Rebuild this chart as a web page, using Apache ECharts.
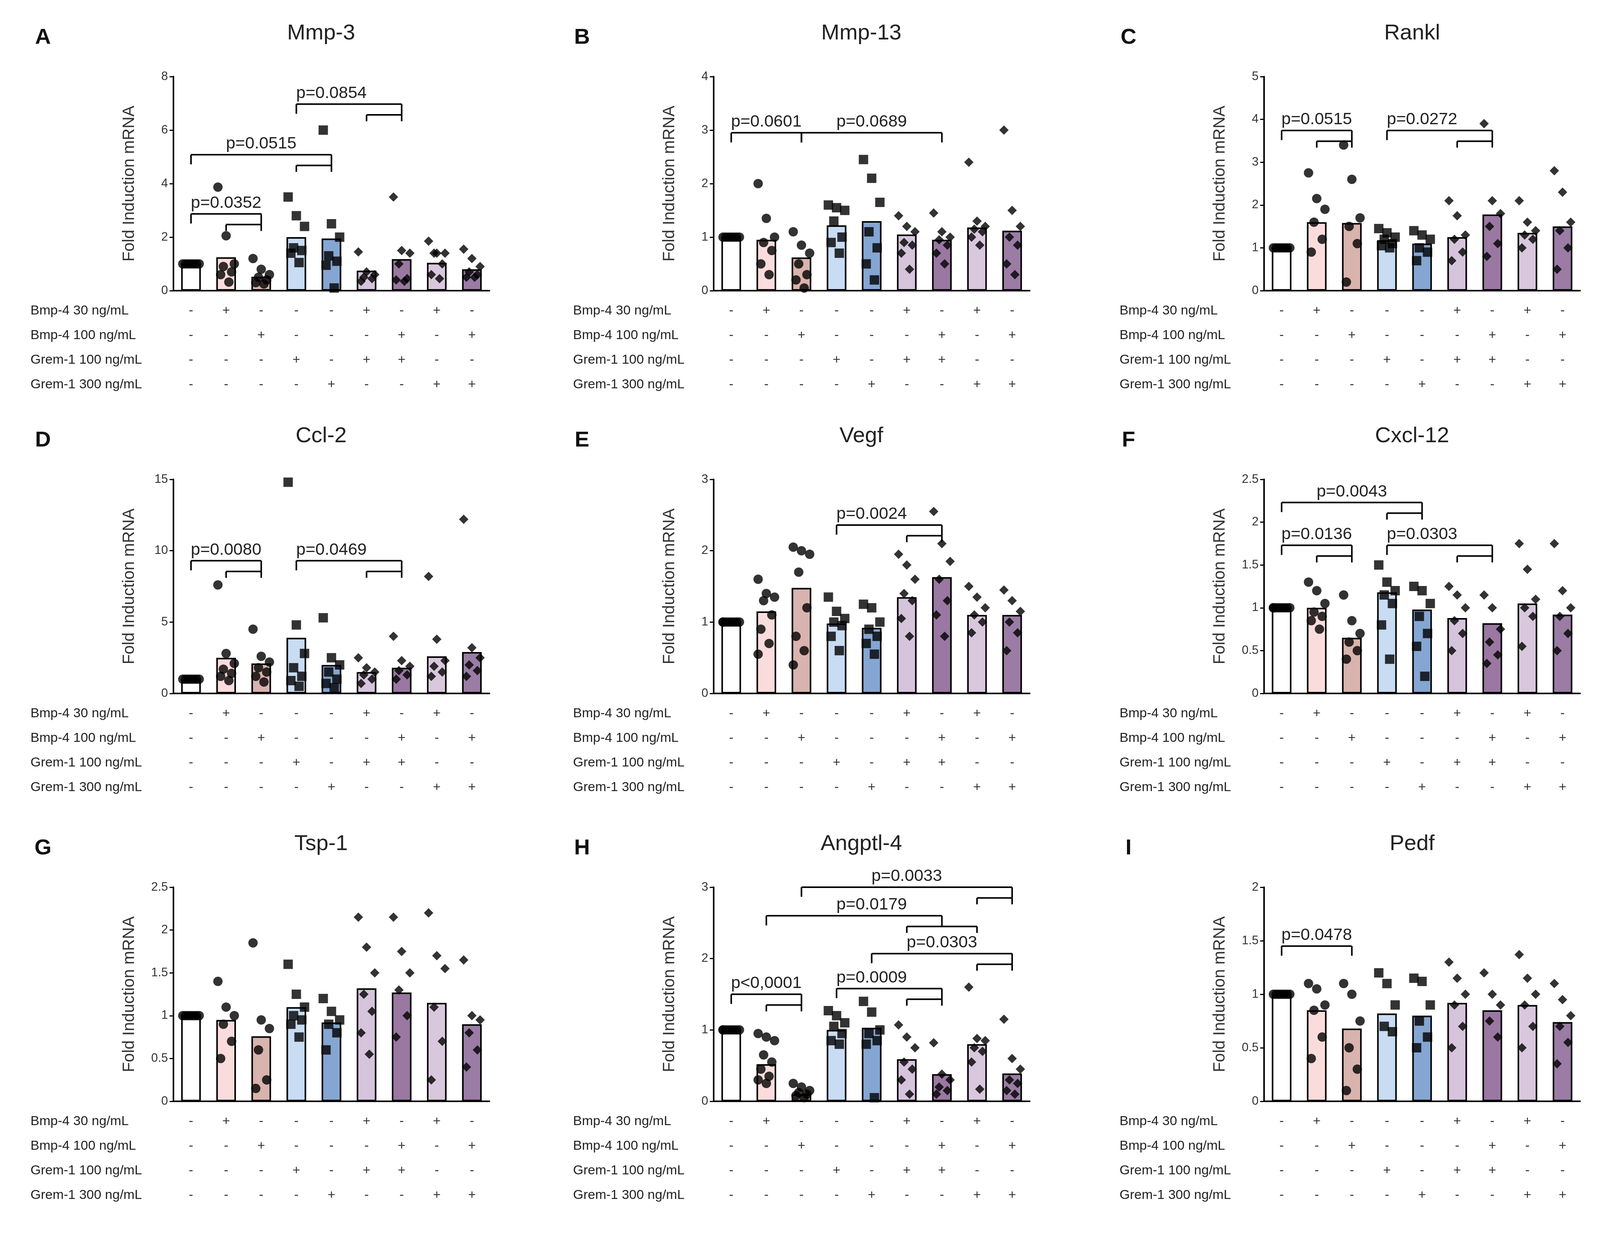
<!DOCTYPE html>
<html><head><meta charset="utf-8">
<script src="https://cdn.jsdelivr.net/npm/echarts@6/dist/echarts.min.js"></script>
<style>html,body{margin:0;background:#fff}#c{width:4173px;height:3215px}</style>
</head><body><div id="c"></div>
<script>
"use strict"
// treatment table, same for every panel
var rowNames = ['Bmp-4 30 ng/mL', 'Bmp-4 100 ng/mL', 'Grem-1 100 ng/mL', 'Grem-1 300 ng/mL'];
var signs = [
  ['-','+','-','-','-','+','-','+','-'],
  ['-','-','+','-','-','-','+','-','+'],
  ['-','-','-','+','-','+','+','-','-'],
  ['-','-','-','-','+','-','-','+','+']
];
var groups = ['g0','g1','g2','g3','g4','g5','g6','g7','g8'];
var barColors = ['#ffffff','#fbdcdc','#d9b3ad','#c8dcf3','#85a6d2','#d6c4dc','#9a78a2','#d9c8dd','#9a7ca5'];
var symbols = ['circle','circle','circle','rect','rect','diamond','diamond','diamond','diamond'];

var letters = ['A','B','C','D','E','F','G','H','I'];
var titles = ['Mmp-3','Mmp-13','Rankl','Ccl-2','Vegf','Cxcl-12','Tsp-1','Angptl-4','Pedf'];
var yMax = [8, 4, 5, 15, 3, 2.5, 2.5, 3, 2];
var yStep = [2, 1, 1, 5, 1, 0.5, 0.5, 1, 0.5];

// bar heights (means)
var means = [
  [1.0, 1.25, 0.52, 2.0, 1.95, 0.75, 1.18, 1.04, 0.8],
  [1.0, 0.95, 0.62, 1.22, 1.3, 1.05, 0.95, 1.18, 1.12],
  [1.0, 1.6, 1.58, 1.18, 1.1, 1.25, 1.78, 1.35, 1.5],
  [1.0, 2.5, 2.1, 3.9, 2.0, 1.5, 1.8, 2.6, 2.9],
  [1.0, 1.15, 1.48, 0.98, 0.92, 1.35, 1.63, 1.1, 1.1],
  [1.0, 1.0, 0.65, 1.18, 0.98, 0.88, 0.82, 1.05, 0.92],
  [1.0, 0.95, 0.76, 1.1, 0.92, 1.32, 1.27, 1.15, 0.9],
  [1.0, 0.52, 0.1, 1.0, 1.03, 0.59, 0.38, 0.8, 0.39],
  [1.0, 0.85, 0.68, 0.82, 0.8, 0.92, 0.85, 0.9, 0.74]
];

// individual points per panel per group
var pts = [
  [[1,1,1,1,1,1,1],[3.87,2.05,1.0,0.9,0.7,0.6,0.32],[1.2,0.8,0.6,0.5,0.4,0.3,0.25],[3.5,2.8,2.4,1.6,1.5,1.4,1.05],[6.0,2.5,2.0,1.3,1.1,0.95,0.1],[1.45,0.7,0.6,0.5,0.45,0.35],[3.5,1.5,1.4,1.0,0.45,0.4,0.35],[1.85,1.4,1.4,1.4,1.0,0.6,0.45],[1.55,1.2,0.9,0.7,0.6,0.5,0.5]],
  [[1,1,1,1,1,1,1],[2.0,1.35,1.0,0.9,0.75,0.5,0.3],[1.1,0.85,0.7,0.5,0.3,0.2,0.05],[1.6,1.55,1.5,1.3,1.0,0.9,0.7],[2.45,2.1,1.65,1.1,0.8,0.5,0.2],[1.4,1.2,1.1,0.9,0.85,0.7,0.4],[1.45,1.1,1.0,0.95,0.85,0.7,0.5],[2.4,1.3,1.2,1.15,1.1,1.0,0.85],[3.0,1.5,1.2,1.0,0.85,0.5,0.3]],
  [[1,1,1,1,1,1,1],[2.75,2.15,1.9,1.6,1.2,0.9],[3.4,2.6,1.7,1.5,1.1,0.2],[1.45,1.35,1.25,1.2,1.1,1.05,1.0],[1.4,1.3,1.2,1.0,0.9,0.7],[2.1,1.75,1.3,1.2,0.9,0.7],[3.9,2.1,1.8,1.5,1.1,0.8],[2.1,1.6,1.4,1.3,1.2,1.0],[2.8,2.3,1.6,1.4,1.0,0.5]],
  [[1,1,1,1,1,1,1],[7.6,2.8,2.1,1.7,1.4,1.2,0.9],[4.5,2.6,2.2,1.8,1.5,1.2,0.8],[14.8,4.8,2.8,1.8,1.2,0.9,0.5],[5.3,2.5,2.0,1.5,1.0,0.7,0.4],[2.5,1.8,1.5,1.3,1.0,0.7],[4.0,2.3,1.9,1.6,1.3,1.0],[8.2,3.8,2.3,1.9,1.5,1.2],[12.2,3.2,2.5,2.0,1.6,1.2]],
  [[1,1,1,1,1,1,1,1],[1.6,1.4,1.35,1.3,1.1,0.9,0.7,0.55],[2.05,2.0,1.95,1.7,1.2,0.8,0.6,0.4],[1.35,1.15,1.05,1.0,0.95,0.8,0.6],[1.25,1.2,1.0,0.9,0.8,0.7,0.55],[1.95,1.8,1.6,1.4,1.3,1.05,0.8],[2.55,2.1,1.85,1.6,1.3,1.1,0.8],[1.5,1.35,1.2,1.1,1.0,0.85],[1.45,1.3,1.15,1.0,0.85,0.6]],
  [[1,1,1,1,1,1,1,1],[1.3,1.2,1.05,0.95,0.9,0.85,0.75],[1.15,0.85,0.7,0.6,0.5,0.4],[1.5,1.3,1.2,1.15,1.05,0.8,0.4],[1.25,1.2,1.05,0.9,0.7,0.55,0.2],[1.25,1.15,1.0,0.85,0.7,0.5],[1.15,1.0,0.75,0.6,0.45,0.35],[1.75,1.45,1.1,1.0,0.9,0.55],[1.75,1.2,1.0,0.9,0.7,0.5]],
  [[1,1,1,1,1,1,1],[1.4,1.1,1.0,0.9,0.7,0.5],[1.85,0.95,0.85,0.6,0.25,0.15],[1.6,1.25,1.1,1.0,0.95,0.9,0.75],[1.2,1.05,0.95,0.9,0.8,0.6],[2.15,1.8,1.5,1.25,1.05,0.8,0.55],[2.15,1.75,1.5,1.3,1.0,0.75],[2.2,1.7,1.55,1.1,0.7,0.25],[1.65,1.0,0.95,0.8,0.6,0.4]],
  [[1,1,1,1,1,1,1,1],[0.95,0.9,0.85,0.65,0.55,0.45,0.35,0.3,0.25],[0.25,0.2,0.15,0.12,0.1,0.08,0.05],[1.27,1.2,1.1,1.05,0.95,0.85,0.8],[1.4,1.25,1.0,0.95,0.85,0.8,0.05],[1.07,0.9,0.75,0.55,0.45,0.3,0.1],[0.82,0.38,0.3,0.2,0.15,0.1],[1.6,0.88,0.85,0.75,0.7,0.55,0.17],[1.15,0.6,0.45,0.3,0.25,0.15,0.1]],
  [[1,1,1,1,1,1,1],[1.1,1.05,0.9,0.85,0.6,0.4],[1.1,1.0,0.75,0.5,0.3,0.1],[1.2,1.1,0.9,0.7,0.65],[1.15,1.12,0.9,0.75,0.6,0.5],[1.3,1.15,1.0,0.9,0.7,0.5],[1.2,1.0,0.9,0.75,0.6],[1.37,1.15,1.0,0.9,0.7,0.5],[1.1,0.95,0.8,0.7,0.55,0.35]]
];

// comparison brackets: [leftFrom, leftTo, rightFrom, rightTo, y level, label]
var brackets = [
  [[0,0,1,2,2.87,'p=0.0352'],[0,0,3,4,5.08,'p=0.0515'],[3,3,5,6,6.97,'p=0.0854']],
  [[0,0,2,2,2.95,'p=0.0601'],[2,2,6,6,2.95,'p=0.0689']],
  [[0,0,1,2,3.74,'p=0.0515'],[3,3,5,6,3.74,'p=0.0272']],
  [[0,0,1,2,9.3,'p=0.0080'],[3,3,5,6,9.3,'p=0.0469']],
  [[3,3,5,6,2.36,'p=0.0024']],
  [[0,0,3,4,2.23,'p=0.0043'],[0,0,1,2,1.73,'p=0.0136'],[3,3,5,6,1.73,'p=0.0303']],
  [],
  [[2,2,7,8,3.0,'p=0.0033'],[1,1,5,7,2.6,'p=0.0179'],[4,4,7,8,2.07,'p=0.0303'],[3,3,5,6,1.58,'p=0.0009'],[0,0,1,2,1.5,'p<0,0001']],
  [[0,0,2,2,1.45,'p=0.0478']]
];

var colLeft = [444, 1827, 3236];
var rowTop = [196, 1227, 2271];
var gw = 809, gh = 548;
var tableX = [78, 1467, 2866];
var titleX = [822, 2205, 3615];
var letterX = [110, 1490, 2889];
var FONT = 'Liberation Sans';

var option = {
  backgroundColor: '#fff',
  animation: false,
  textStyle: {fontFamily: FONT},
  grid: [], xAxis: [], yAxis: [], series: [], graphic: []
};

function bracketRenderer(ym, labels) {
  return function (params, api) {
    var l0 = api.value(0), l1 = api.value(1), r0 = api.value(2), r1 = api.value(3), y = api.value(4);
    var label = labels[params.dataIndex];
    var g = 0.05 * ym, leg = 0.045 * ym, tk = 0.03 * ym;
    var lm = (l0 + l1) / 2, rm = (r0 + r1) / 2;
    var st = {stroke: '#000', lineWidth: 4};
    var els = [];
    function seg(a, b) {
      var p1 = api.coord(a), p2 = api.coord(b);
      els.push({type: 'line', shape: {x1: p1[0], y1: p1[1], x2: p2[0], y2: p2[1]}, style: st});
    }
    seg([lm, y], [rm, y]);
    [[l0, l1], [r0, r1]].forEach(function (s) {
      var m = (s[0] + s[1]) / 2;
      if (s[0] === s[1]) { seg([m, y], [m, y - leg]); }
      else {
        seg([m, y], [m, y - g]);
        seg([s[0], y - g], [s[1], y - g]);
        seg([s[0], y - g], [s[0], y - g - tk]);
        seg([s[1], y - g], [s[1], y - g - tk]);
      }
    });
    var tp = api.coord([(lm + rm) / 2, y]);
    els.push({type: 'text', x: tp[0], y: tp[1] - 6,
      style: {text: label, fontSize: 43, fill: '#222', align: 'center', verticalAlign: 'bottom', fontFamily: FONT}});
    return {type: 'group', children: els};
  };
}

function signFormatter(v, i) {
  return signs.map(function (row) { return row[i]; }).join('\n');
}

for (var p = 0; p < 9; p++) {
  var col = p % 3, row = Math.floor(p / 3);
  var gLeft = colLeft[col], gTop = rowTop[row];
  option.grid.push({left: gLeft, top: gTop, width: gw, height: gh, outerBoundsMode: 'none'});
  option.graphic.push({type: 'text', x: titleX[col], y: gTop - 110,
    style: {text: titles[p], fontSize: 56, fill: '#222', align: 'center', verticalAlign: 'middle', fontFamily: FONT}});
  option.graphic.push({type: 'text', x: letterX[col], y: gTop - 99,
    style: {text: letters[p], fontSize: 56, fontWeight: 'bold', fill: '#111', align: 'center', verticalAlign: 'middle', fontFamily: FONT}});
  option.xAxis.push({
    type: 'category', gridIndex: p, data: groups, boundaryGap: true,
    axisLine: {lineStyle: {color: '#000', width: 4}}, axisTick: {show: false},
    axisLabel: {margin: 20, fontSize: 34, color: '#333', lineHeight: 63, formatter: signFormatter}
  });
  option.yAxis.push({
    type: 'value', gridIndex: p, min: 0, max: yMax[p], interval: yStep[p],
    name: 'Fold Induction mRNA', nameLocation: 'middle', nameGap: 92,
    nameTextStyle: {fontSize: 42, color: '#333'},
    splitLine: {show: false},
    axisLine: {show: true, lineStyle: {color: '#000', width: 4}},
    axisTick: {show: true, length: 10, lineStyle: {width: 3, color: '#000'}},
    axisLabel: {fontSize: 31, color: '#333', margin: 14}
  });
  // bars
  option.series.push({
    type: 'bar', xAxisIndex: p, yAxisIndex: p, barWidth: '56%', z: 2,
    data: means[p].map(function (v, i) {
      return {value: v, itemStyle: {color: barColors[i], borderColor: '#000', borderWidth: 4}};
    })
  });
  // points, spread sideways within the bar
  var sd = [];
  pts[p].forEach(function (arr, gi) {
    arr.forEach(function (v, k) {
      var off = (((k * 3) % 7) - 3) * 7;
      sd.push({value: [gi, v], symbol: symbols[gi], symbolOffset: [off, 0]});
    });
  });
  option.series.push({
    type: 'scatter', xAxisIndex: p, yAxisIndex: p, symbolSize: 24, z: 3,
    itemStyle: {color: '#000'}, data: sd
  });
  // brackets
  if (brackets[p].length) {
    option.series.push({
      type: 'custom', xAxisIndex: p, yAxisIndex: p, z: 4, clip: false,
      encode: {x: 0, y: 4},
      data: brackets[p].map(function (b) { return b.slice(0, 5); }),
      renderItem: bracketRenderer(yMax[p], brackets[p].map(function (b) { return b[5]; }))
    });
  }
  // table row names
  rowNames.forEach(function (nm, k) {
    option.graphic.push({type: 'text', x: tableX[col], y: gTop + gh + 52 + k * 63,
      style: {text: nm, fontSize: 34, fill: '#222', verticalAlign: 'middle', fontFamily: FONT}});
  });
}

var chart = echarts.init(document.getElementById('c'));
chart.setOption(option);
</script>
</body></html>
